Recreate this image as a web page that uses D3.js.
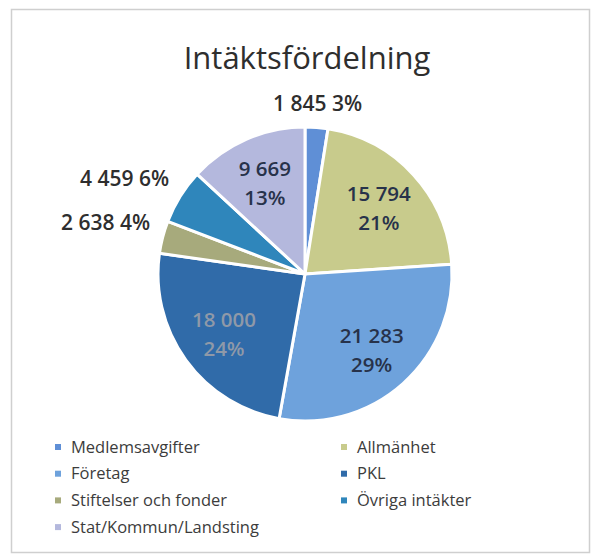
<!DOCTYPE html>
<html>
<head>
<meta charset="utf-8">
<script src="https://cdn.jsdelivr.net/npm/d3@7"></script>
<style>
  html, body { margin: 0; padding: 0; background: #fff; }
  svg { display: block; font-family: "Open Sans", "DejaVu Sans", sans-serif; }
</style>
</head>
<body>
<svg id="chart" width="599" height="557"></svg>
<script>
const title = "Intäktsfördelning";
const categories = ["Medlemsavgifter", "Allmänhet", "Företag", "PKL", "Stiftelser och fonder", "Övriga intäkter", "Stat/Kommun/Landsting"];
const values = [1845, 15794, 21283, 18000, 2638, 4459, 9669];
const valueLabels = ["1 845", "15 794", "21 283", "18 000", "2 638", "4 459", "9 669"];
const percentLabels = ["3%", "21%", "29%", "24%", "4%", "6%", "13%"];
const colors = ["#5f8fd6", "#c8cb8c", "#6ea2dc", "#306ba9", "#a7aa7c", "#2f86bb", "#b4b8dd"];
const outsideLabel = [true, false, false, false, true, true, false];

const svg = d3.select("#chart");
const cx = 305, cy = 274, R = 147;

// chart border
svg.append("rect").attr("x", 11.5).attr("y", 9.5).attr("width", 578).attr("height", 543)
  .attr("fill", "none").attr("stroke", "#cfcfcf").attr("stroke-width", 1.5);

svg.append("text").attr("x", 307).attr("y", 69).attr("text-anchor", "middle")
  .attr("font-size", 31).attr("fill", "#2e2e2e").text(title);

const data = categories.map((c, i) => ({ name: c, value: values[i], v: valueLabels[i], p: percentLabels[i], color: colors[i], out: outsideLabel[i] }));
const pie = d3.pie().sort(null).value(d => d.value);
const arcs = pie(data);
const arc = d3.arc().innerRadius(0).outerRadius(R);
const inArc = d3.arc().innerRadius(100).outerRadius(100);
const outArc = d3.arc().innerRadius(160).outerRadius(160);

const g = svg.append("g").attr("transform", `translate(${cx},${cy})`);
g.selectAll("path").data(arcs).join("path")
  .attr("d", arc).attr("fill", d => d.data.color)
  .attr("stroke", "#fff").attr("stroke-width", 3).attr("stroke-linejoin", "round");

// inside labels
arcs.filter(d => !d.data.out).forEach(d => {
  const [x, y] = inArc.centroid(d);
  const t = g.append("text").attr("text-anchor", "middle")
    .attr("font-size", 20.5).attr("font-weight", 600)
    .attr("fill", d.data.name === "PKL" ? "#8f99a8" : "#27324a");
  t.append("tspan").attr("x", x).attr("y", y - 6).text(d.data.v);
  t.append("tspan").attr("x", x).attr("y", y + 23).text(d.data.p);
});

// outside labels
arcs.filter(d => d.data.out).forEach(d => {
  const [x, y] = outArc.centroid(d);
  const mid = (d.startAngle + d.endAngle) / 2;
  const anchor = Math.abs(Math.sin(mid)) < 0.3 ? "middle" : (Math.sin(mid) < 0 ? "end" : "start");
  g.append("text").attr("x", x).attr("y", y - 4).attr("text-anchor", anchor)
    .attr("font-size", 21).attr("font-weight", 600).attr("fill", "#2e2e2e")
    .text(`${d.data.v} ${d.data.p}`);
});

// legend (two columns, row-major)
const legend = svg.append("g");
const colX = [58, 344], rowY0 = 447, rowH = 26.7;
data.forEach((d, i) => {
  const col = i % 2, row = Math.floor(i / 2);
  const x = colX[col], y = rowY0 + row * rowH;
  legend.append("rect").attr("x", x - 3).attr("y", y - 3).attr("width", 6).attr("height", 6).attr("fill", d.color);
  legend.append("text").attr("x", x + 13).attr("y", y).attr("dy", "0.35em")
    .attr("font-size", 16.5).attr("fill", "#3c3c3c").text(d.name);
});
</script>
</body>
</html>
